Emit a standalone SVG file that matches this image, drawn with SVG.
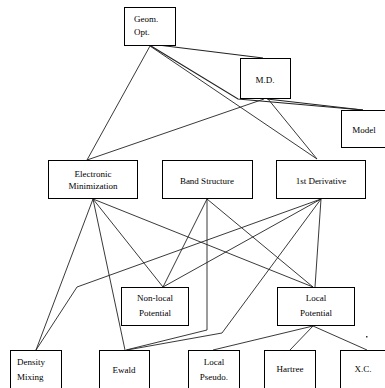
<svg xmlns="http://www.w3.org/2000/svg" width="385" height="388" viewBox="0 0 385 388">
<style>
.box{fill:#fff;stroke:#000;stroke-width:1}
.t{font-family:"Liberation Serif",serif;font-size:9px;fill:#000}
.m{text-anchor:middle}
.c{fill:none;stroke:#222;stroke-width:0.9}
.d{fill:none;stroke:#222;stroke-width:1.15}
</style>
<rect width="385" height="388" fill="#fff"/>
<g id="connectors">
<path class="c" d="M150,46 L87,160"/>
<path class="d" d="M158,45 L263,58"/>
<path class="d" d="M151,46 L238,99 L363,110"/>
<path class="c" d="M150,46 L317,159"/>
<path class="c" d="M264,99 L87,160"/>
<path class="c" d="M268,99 L317,159"/>
<path class="d" d="M267,99 L363,110"/>
<path class="c" d="M93,199 L36,350"/>
<path class="c" d="M93,199 L125,350"/>
<path class="c" d="M93,199 L163,287"/>
<path class="c" d="M93,199 L313,287"/>
<path class="c" d="M207,199 L163,287"/>
<path class="c" d="M207,199 L207,330 L126,350"/>
<path class="c" d="M207,199 L313,287"/>
<path class="c" d="M321,199 L77,287 L36,350"/>
<path class="c" d="M321,199 L163,287"/>
<path class="c" d="M321,199 L222,333 L127,350"/>
<path class="c" d="M321,199 L315,287"/>
<path class="c" d="M313,326 L213,350"/>
<path class="c" d="M313,326 L290,350"/>
<path class="c" d="M313,326 L367,350"/>
</g>
<rect x="366" y="336" width="1.5" height="1.5" fill="#333"/>
<g id="geom">
<rect class="box" x="124.5" y="7.5" width="51" height="38"/>
<text class="t" x="134" y="22">Geom.</text>
<text class="t" x="134" y="35">Opt.</text>
</g>
<g id="md">
<rect class="box" x="240.5" y="58.5" width="50" height="40"/>
<text class="t m" x="265" y="83">M.D.</text>
</g>
<g id="model">
<rect class="box" x="341.5" y="110.5" width="46" height="37"/>
<text class="t m" x="364" y="133">Model</text>
</g>
<g id="elecmin">
<rect class="box" x="48.5" y="160.5" width="89" height="38"/>
<text class="t m" x="93" y="177">Electronic</text>
<text class="t m" x="93" y="189">Minimization</text>
</g>
<g id="band">
<rect class="box" x="162.5" y="160.5" width="90" height="38"/>
<text class="t m" x="207" y="184">Band Structure</text>
</g>
<g id="deriv">
<rect class="box" x="276.5" y="160.5" width="89" height="38"/>
<text class="t m" x="321" y="184">1st Derivative</text>
</g>
<g id="nonlocal">
<rect class="box" x="121.5" y="287.5" width="67" height="38"/>
<text class="t m" x="155" y="301">Non-local</text>
<text class="t m" x="155" y="316">Potential</text>
</g>
<g id="localpot">
<rect class="box" x="277.5" y="287.5" width="77" height="38"/>
<text class="t m" x="316" y="301">Local</text>
<text class="t m" x="316" y="316">Potential</text>
</g>
<g id="density">
<rect class="box" x="10.5" y="350.5" width="51" height="40"/>
<text class="t" x="17" y="365">Density</text>
<text class="t" x="17" y="380">Mixing</text>
</g>
<g id="ewald">
<rect class="box" x="99.5" y="350.5" width="50" height="40"/>
<text class="t m" x="124" y="373">Ewald</text>
</g>
<g id="pseudo">
<rect class="box" x="188.5" y="350.5" width="51" height="40"/>
<text class="t m" x="214" y="365">Local</text>
<text class="t m" x="214" y="380">Pseudo.</text>
</g>
<g id="hartree">
<rect class="box" x="264.5" y="350.5" width="51" height="40"/>
<text class="t m" x="290" y="372">Hartree</text>
</g>
<g id="xc">
<rect class="box" x="340.5" y="350.5" width="47" height="40"/>
<text class="t m" x="363" y="372">X.C.</text>
</g>
</svg>
